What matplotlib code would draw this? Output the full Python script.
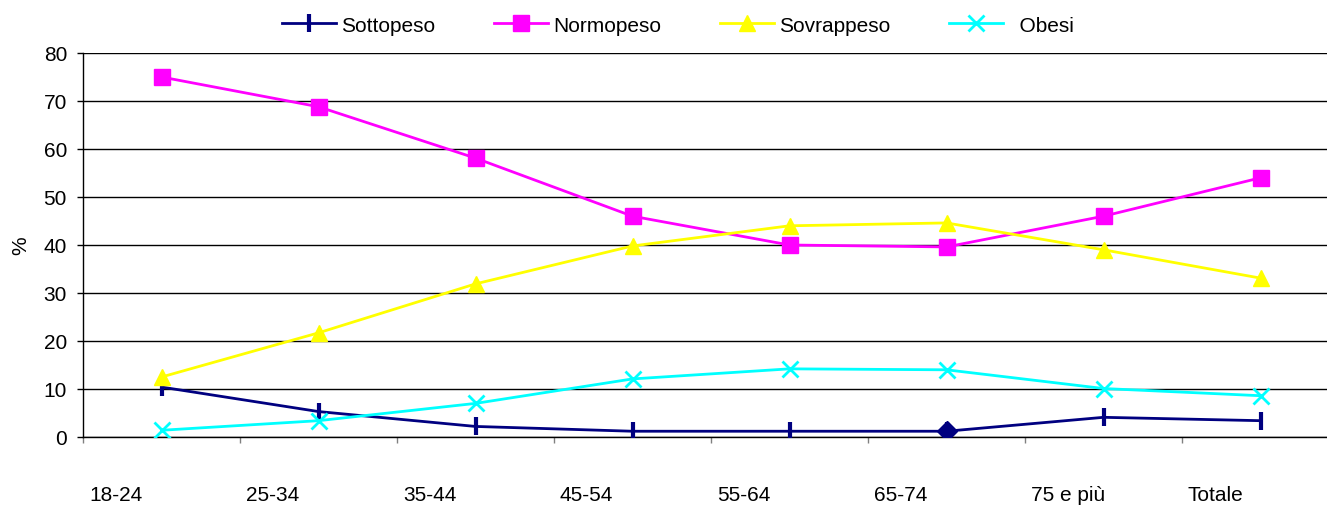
"""BMI classes by age group (%)."""

import matplotlib
matplotlib.use("Agg")
import matplotlib.pyplot as plt
import matplotlib.transforms as mtransforms
import numpy as np

plt.rcParams['font.family'] = ['Liberation Sans', 'DejaVu Sans']

CATEGORIES = ['18-24', '25-34', '35-44', '45-54', '55-64', '65-74', '75 e più', 'Totale']

sottopeso = [10.4, 5.3, 2.2, 1.2, 1.2, 1.2, 4.1, 3.4]
normopeso = [75.0, 68.8, 58.1, 46.0, 40.0, 39.6, 46.0, 54.0]
sovrappeso = [12.5, 21.7, 31.9, 39.8, 44.0, 44.6, 39.0, 33.1]
obesi = [1.4, 3.4, 7.0, 12.1, 14.2, 14.0, 10.1, 8.6]

NAVY = '#000080'
MAGENTA = '#ff00ff'
YELLOW = '#ffff00'
CYAN = '#00ffff'
FS = 15

fig = plt.figure(figsize=(13.27, 5.06), dpi=100)
W, H = 1327, 506
# plot area: x 83..1339 px (runs off the right edge), y 54..438 px
ax = fig.add_axes([83 / W, (H - 438) / H, (1339 - 83) / W, (438 - 54) / H])

x = np.arange(len(CATEGORIES))

ax.plot(x, sottopeso, color=NAVY, lw=2, marker='|', ms=13, mew=3,
        label='Sottopeso', zorder=3)
# single point drawn with a diamond
ax.plot(x[5], sottopeso[5], color=NAVY, marker='D', ms=10, ls='none', zorder=4)
ax.plot(x, normopeso, color=MAGENTA, lw=2, marker='s', ms=11,
        label='Normopeso', zorder=3)
ax.plot(x, sovrappeso, color=YELLOW, lw=2, marker='^', ms=12,
        label='Sovrappeso', zorder=3)
ax.plot(x, obesi, color=CYAN, lw=2, marker='x', ms=12, mew=2,
        label='  Obesi', zorder=3)

ax.set_xlim(-0.5, len(CATEGORIES) - 0.5)
ax.set_ylim(0, 80)
ax.set_yticks(np.arange(0, 81, 10))
ax.yaxis.grid(True, color='black', lw=1)
ax.set_axisbelow(True)

for side in ('top', 'right'):
    ax.spines[side].set_visible(False)
ax.spines['left'].set_linewidth(1)
ax.spines['bottom'].set_linewidth(1)

# tick marks at category boundaries, labels left-aligned after each boundary
ax.set_xticks(x - 0.5)
ax.set_xticklabels(CATEGORIES, ha='left')
ax.tick_params(axis='x', length=4.5, width=1, color='#808080', pad=30,
               labelsize=FS)
shift = mtransforms.ScaledTranslation(6 / 100, 0, fig.dpi_scale_trans)
for lbl in ax.get_xticklabels():
    lbl.set_transform(lbl.get_transform() + shift)
ax.tick_params(axis='y', length=4.5, width=1, labelsize=FS, pad=7)

ax.set_ylabel('%', fontsize=FS, labelpad=10)

ax.legend(loc='center', bbox_to_anchor=(678 / W, (H - 26) / H),
          bbox_transform=fig.transFigure, ncol=4, frameon=False,
          fontsize=FS, handlelength=2.6, columnspacing=2.8, handletextpad=0.25)

fig.savefig('out.png', dpi=100)
